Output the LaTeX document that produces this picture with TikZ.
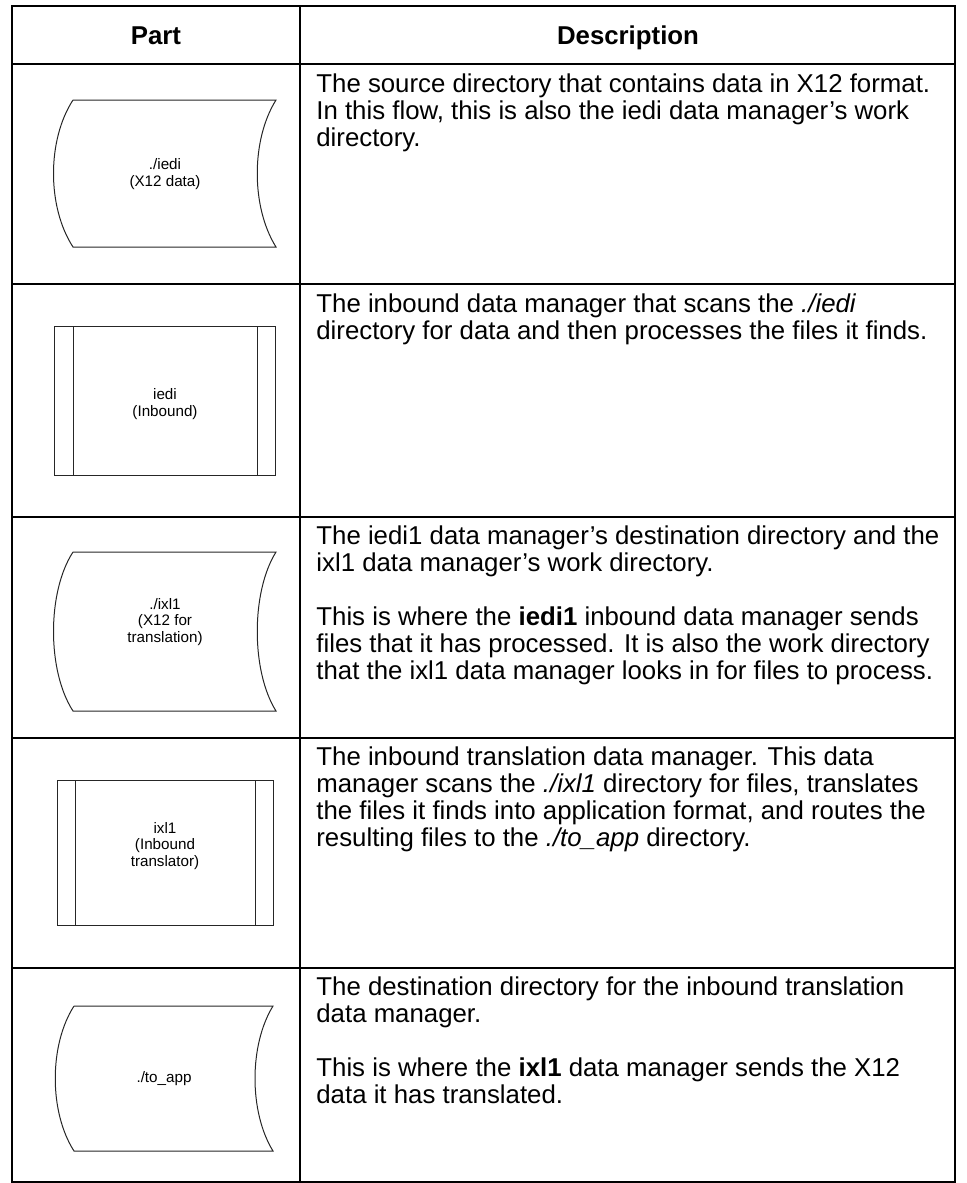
\documentclass[tikz,border=0pt]{standalone}
\usepackage{fontspec}
\setmainfont{Liberation Sans}
\usepackage{tikz}
\newcommand{\descfont}{\fontsize{12.9}{13.5}\selectfont}
\newcommand{\partfont}{\fontsize{7.6}{8.3}\selectfont}
\tikzset{
  tabline/.style={line width=1.3pt},
  partline/.style={line width=0.5pt, draw=black!85},
  desc/.style={anchor=north west, inner sep=0pt, align=left, font=\descfont},
  partlabel/.style={align=center, inner sep=0pt, font=\partfont},
  headlabel/.style={anchor=base, inner sep=0pt, font=\bfseries\descfont}
}

\begin{document}
\begin{tikzpicture}[x=0.5pt, y=-0.5pt]
  \useasboundingbox (0,0) rectangle (967,1183);

  % table frame
  \draw[tabline] (12,6) rectangle (955,1182);
  \draw[tabline] (300,6) -- (300,1182);
  \draw[tabline] (12,64) -- (955,64);
  \draw[tabline] (12,284) -- (955,284);
  \draw[tabline] (12,517) -- (955,517);
  \draw[tabline] (12,738) -- (955,738);
  \draw[tabline] (12,968) -- (955,968);

  % header
  \node[headlabel] (H1) at (156,44) {Part};
  \node[headlabel] (H2) at (628,44) {Description};

  % part shapes
  \draw[partline] (73,100) -- (276,100) .. controls (251,140) and (251,207) .. (276,247)
    -- (73,247) .. controls (47,207) and (47,140) .. (73,100);
  \node[partlabel] (P1) at (165,174) {./iedi\\(X12 data)};

  \draw[partline] (54,326) rectangle (275,475);
  \draw[partline] (73,326) -- (73,475);
  \draw[partline] (257,326) -- (257,475);
  \node[partlabel] (P2) at (165,404) {iedi\\(Inbound)};

  \draw[partline] (73,552) -- (276,552) .. controls (251,592) and (251,671) .. (276,711)
    -- (73,711) .. controls (47,671) and (47,592) .. (73,552);
  \node[partlabel] (P3) at (165,622) {./ixl1\\(X12 for\\translation)};

  \draw[partline] (57,780) rectangle (273,925);
  \draw[partline] (75,780) -- (75,925);
  \draw[partline] (255,780) -- (255,925);
  \node[partlabel] (P4) at (165,846) {ixl1\\(Inbound\\translator)};

  \draw[partline] (74,1006) -- (273,1006) .. controls (249,1045) and (249,1112) .. (273,1151)
    -- (74,1151) .. controls (49,1112) and (49,1045) .. (74,1006);
  \node[partlabel] (P5) at (164,1079) {./to\_app};

  % descriptions
  \node[desc] (D1) at (316,73) {The source directory that contains data in X12 format.\\
    In this flow, this is also the iedi data manager’s work\\directory.};
  \node[desc] (D2) at (316,293) {The inbound data manager that scans the \textit{./iedi}\\
    directory for data and then processes the files it finds.};
  \node[desc] (D3) at (316,525) {The iedi1 data manager’s destination directory and the\\
    ixl1 data manager’s work directory.\\[13.5pt]
    This is where the \textbf{iedi1} inbound data manager sends\\
    files that it has processed. It is also the work directory\\
    that the ixl1 data manager looks in for files to process.};
  \node[desc] (D4) at (316,746) {The inbound translation data manager. This data\\
    manager scans the \textit{./ixl1} directory for files, translates\\
    the files it finds into application format, and routes the\\
    resulting files to the \textit{./to\_app} directory.};
  \node[desc] (D5) at (316,976) {The destination directory for the inbound translation\\
    data manager.\\[13.5pt]
    This is where the \textbf{ixl1} data manager sends the X12\\
    data it has translated.};
\end{tikzpicture}
\end{document}
